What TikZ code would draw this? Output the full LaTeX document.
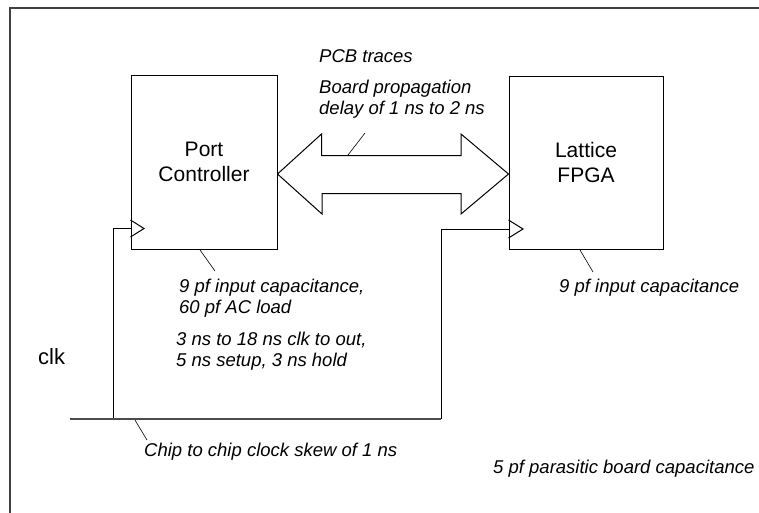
\documentclass[tikz,border=0pt]{standalone}
\usepackage{fontspec}
\setmainfont{Liberation Sans}
\begin{document}
\begin{tikzpicture}[x=1pt,y=-1pt,
  box/.style={draw,line width=1pt,minimum width=146pt,minimum height=174pt,inner sep=0pt,align=center,font=\fontsize{21}{25}\selectfont},
  note/.style={inner sep=0pt,anchor=west,align=left,font=\fontsize{18.5}{21}\selectfont\itshape},
  wire/.style={line width=1pt},
  leader/.style={line width=0.6pt},
  clkwire/.style={line width=1.3pt,black!70}]
\useasboundingbox (0,0) rectangle (759,512);
% frame
\draw[line width=1.6pt,black!75] (10,515) -- (10,8) -- (762,8);
% boxes
\node[box] (pc) at (204,162) {Port\\Controller};
\node[box,minimum width=154pt,minimum height=173pt] (fpga) at (586,162.5) {Lattice\\FPGA};
% bus arrow
\coordinate (lt) at (pc.east |- 0,174);
\coordinate (rt) at (fpga.west |- 0,174);
\draw[wire,line join=miter] (lt) -- ++(44,-40) -- ++(0,21.5) -- (461,155.5) -- (461,134) -- (rt)
  -- (461,214) -- (461,193.5) -- (322,193.5) -- (322,214) -- cycle;
% clock inputs
\coordinate (pcclk) at (pc.west |- 0,228.5);
\coordinate (fpclk) at (fpga.west |- 0,229);
\draw[wire] (pc.west |- 0,220) -- (144,228.5) -- (pc.west |- 0,237);
\draw[wire] (fpga.west |- 0,220) -- (523,229) -- (fpga.west |- 0,238);
\coordinate (c1) at (113,228.5);
\coordinate (c2) at (113,419);
\coordinate (c3) at (441,419);
\coordinate (c4) at (441,229);
\coordinate (cstart) at (70,419);
\draw[wire] (pcclk) -- (c1) -- (c2);
\draw[clkwire] (cstart) -- (c3);
\draw[wire] (c3) -- (c4) -- (fpclk);
% labels
\node[note] (pcb) at (319,56) {PCB traces};
\node[note] (bpd) at (319,99) {Board propagation\\delay of 1 ns to 2 ns};
\node[note] (pccap) at (179,298) {9 pf input capacitance,\\60 pf AC load};
\node[note] (pctim) at (176,351) {3 ns to 18 ns clk to out,\\5 ns setup, 3 ns hold};
\node[inner sep=0pt,anchor=west,font=\fontsize{22}{25}\selectfont] (clk) at (38,357) {clk};
\node[note] (skew) at (144,452) {Chip to chip clock skew of 1 ns};
\node[note] (fpcap) at (559,288) {9 pf input capacitance};
\node[note] (para) at (493,469) {5 pf parasitic board capacitance};
% leaders
\coordinate (l1a) at (365,133); \coordinate (l1b) at (348,155);
\draw[leader] (l1a) -- (l1b);
\coordinate (l2a) at (200,250); \coordinate (l2b) at (215,271);
\draw[leader] (l2a) -- (l2b);
\coordinate (l3a) at (580,250); \coordinate (l3b) at (593,272);
\draw[leader] (l3a) -- (l3b);
\coordinate (l4a) at (135,420); \coordinate (l4b) at (147,440);
\draw[leader] (l4a) -- (l4b);
\end{tikzpicture}
\end{document}
